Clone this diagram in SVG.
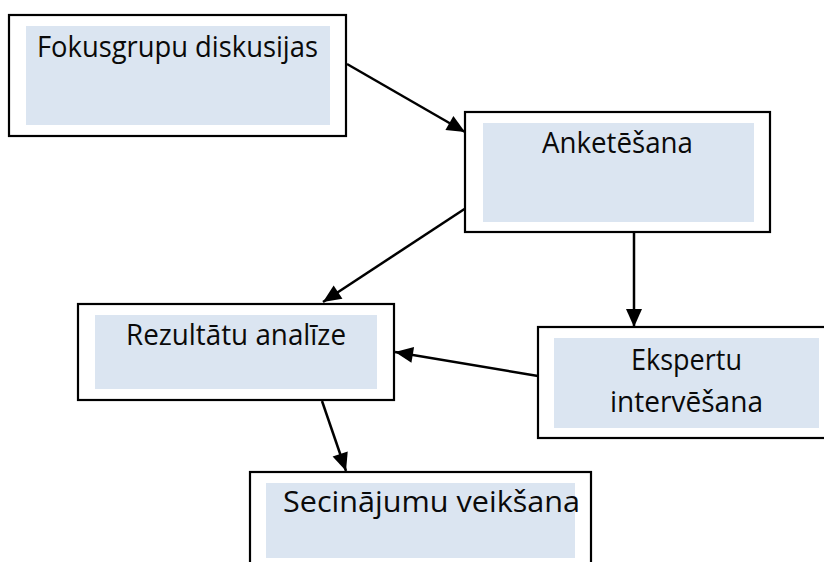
<svg xmlns="http://www.w3.org/2000/svg" width="824" height="562" viewBox="0 0 824 562">
<style>
.outer{fill:#ffffff;stroke:#000000;stroke-width:2.2}
.inner{fill:#DBE5F1;stroke:none}
.lbl{font-family:"Open Sans","Noto Sans","DejaVu Sans",sans-serif;font-size:29px;fill:#0a0a0a}
.conn{stroke:#000000;stroke-width:2.5;fill:none}
</style>
<defs>
<marker id="ah" markerUnits="userSpaceOnUse" markerWidth="22" markerHeight="22" viewBox="0 0 22 22" refX="20" refY="11" orient="auto">
<path d="M2,3 L20,11 L2,19 Z" fill="#000000"/>
</marker>
</defs>
<rect width="824" height="562" fill="#ffffff"/>
<g id="connectors">
<line class="conn" x1="347" y1="64" x2="465" y2="132" marker-end="url(#ah)"/>
<line class="conn" x1="466" y1="208" x2="323" y2="302" marker-end="url(#ah)"/>
<line class="conn" x1="634" y1="233" x2="634" y2="327" marker-end="url(#ah)"/>
<line class="conn" x1="538" y1="376" x2="395" y2="352" marker-end="url(#ah)"/>
<line class="conn" x1="322" y1="401" x2="346" y2="471" marker-end="url(#ah)"/>
</g>
<g id="node-fokusgrupu">
<rect class="outer" x="9" y="15" width="337" height="121"/>
<rect class="inner" x="26" y="26" width="304" height="99"/>
<text class="lbl" x="37" y="57" textLength="281" lengthAdjust="spacingAndGlyphs">Fokusgrupu diskusijas</text>
</g>
<g id="node-anketesana">
<rect class="outer" x="465" y="112" width="305" height="120"/>
<rect class="inner" x="483" y="123" width="271" height="99"/>
<text class="lbl" x="542" y="153" textLength="151" lengthAdjust="spacingAndGlyphs">Anketēšana</text>
</g>
<g id="node-rezultatu">
<rect class="outer" x="78" y="304" width="316" height="96"/>
<rect class="inner" x="95" y="315" width="282" height="74"/>
<text class="lbl" x="126" y="345" textLength="220" lengthAdjust="spacingAndGlyphs">Rezultātu analīze</text>
</g>
<g id="node-ekspertu">
<rect class="outer" x="538" y="327" width="290" height="111"/>
<rect class="inner" x="554" y="338" width="265" height="90"/>
<text class="lbl" x="631" y="370" textLength="111" lengthAdjust="spacingAndGlyphs">Ekspertu</text>
<text class="lbl" x="610" y="412" textLength="153" lengthAdjust="spacingAndGlyphs">intervēšana</text>
</g>
<g id="node-secinajumu">
<rect class="outer" x="250" y="472" width="341" height="100"/>
<rect class="inner" x="266" y="483" width="309" height="75"/>
<text class="lbl" x="283" y="512" textLength="297" lengthAdjust="spacingAndGlyphs">Secinājumu veikšana</text>
</g>
</svg>
